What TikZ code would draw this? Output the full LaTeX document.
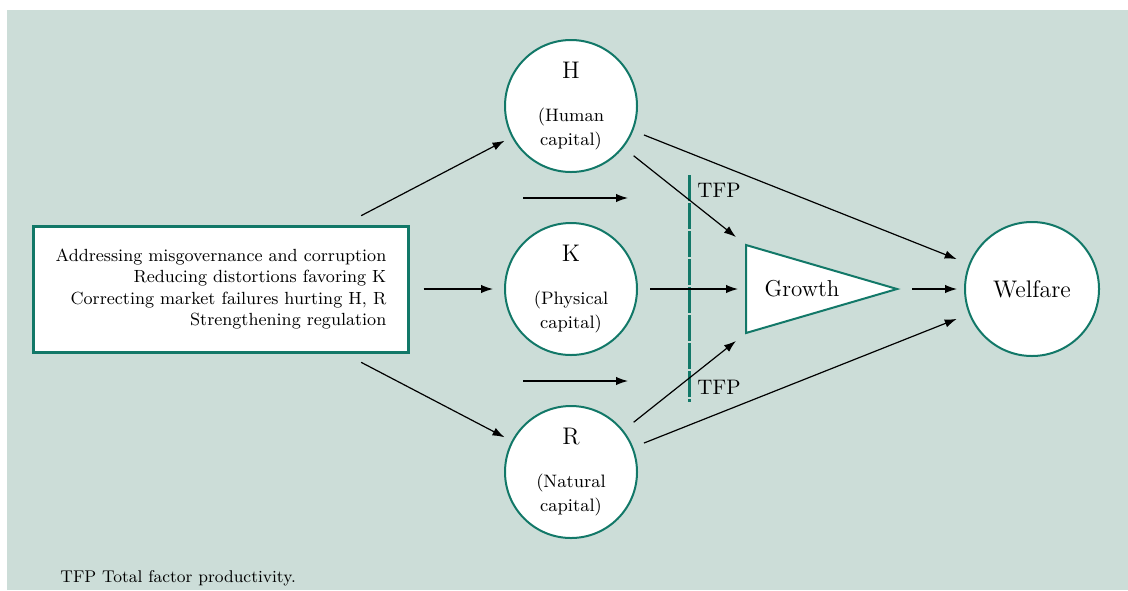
\documentclass[tikz,border=0pt]{standalone}
\usepackage{tikz}
\usetikzlibrary{positioning}
\usetikzlibrary{arrows.meta}
\definecolor{bgteal}{RGB}{204,221,216}
\definecolor{darkteal}{RGB}{18,120,104}
\begin{document}
\begin{tikzpicture}[x=0.5pt, y=-0.5pt,
    capital/.style={circle, draw=darkteal, line width=1pt, fill=white,
                    minimum size=66pt, inner sep=0pt, align=center,
                    font=\fontsize{9}{12}\selectfont},
    flow/.style={->, >={Latex[length=6pt, width=4.2pt]}, line width=0.6pt},
    tfp/.style={anchor=west, inner sep=0pt, font=\fontsize{10.5}{12}\selectfont}]
    \useasboundingbox (0,0) rectangle (1128,590);
    \fill [white] (0,0) rectangle (1128,590);
    \fill [bgteal] (7,10) rectangle (1128,590);

    % dashed TFP barrier
    \coordinate (tfptop) at (689,175);
    \coordinate (tfpbot) at (689,402);
    \draw [darkteal, line width=1.5pt, dash pattern=on 13pt off 1pt] (tfptop) -- (tfpbot);
    \node [tfp] (tfp1) at (697,190) {TFP};
    \node [tfp] (tfp2) at (697,387) {TFP};

    % the three capitals
    \node [capital] (k) at (571,289)
          {{\fontsize{12}{14}\selectfont K}\\[9.5pt](Physical\\capital)};
    \node [capital, above=24.5pt of k] (h)
          {{\fontsize{12}{14}\selectfont H}\\[9.5pt](Human\\capital)};
    \node [capital, below=24.5pt of k] (r)
          {{\fontsize{12}{14}\selectfont R}\\[9.5pt](Natural\\capital)};

    \node [left=47pt of k, draw=darkteal, line width=1.5pt, fill=white,
           minimum width=187.5pt, minimum height=63pt, align=right,
           font=\fontsize{8.8}{10.8}\selectfont] (box)
          {Addressing misgovernance and corruption\\ Reducing distortions favoring K\\
           Correcting market failures hurting H, R\\ Strengthening regulation};

    % growth triangle
    \coordinate (gnw) at (746,245);
    \coordinate (gsw) at (746,333);
    \coordinate (gtip) at (897,289);
    \coordinate (gw) at (746,289);
    \draw [darkteal, line width=1pt, fill=white] (gnw) -- (gtip) -- (gsw) -- cycle;
    \node [font=\fontsize{11.5}{14}\selectfont] (g) at (802,289) {Growth};

    \node [capital, minimum size=67pt, font=\fontsize{12}{14}\selectfont] (w) at (1032,289) {Welfare};

    \node [anchor=west, inner sep=0pt, font=\fontsize{8.5}{10}\selectfont] (note) at (60,578)
          {TFP Total factor productivity.};

    % policy arrows
    \draw [flow, shorten <=9.5pt, shorten >=4pt] (box) -- (h);
    \draw [flow, shorten <=6.75pt, shorten >=5.5pt] (box) -- (k);
    \draw [flow, shorten <=9.5pt, shorten >=4pt] (box) -- (r);

    \coordinate (u1) at (523,198);
    \coordinate (u2) at (628,198);
    \coordinate (d1) at (523,381);
    \coordinate (d2) at (628,381);
    \draw [flow] (u1) -- (u2);
    \draw [flow] (d1) -- (d2);

    % into growth and welfare
    \draw [flow, shorten <=6pt, shorten >=4pt] (k) -- (gw);
    \draw [flow, shorten <=6.5pt, shorten >=6.4pt] (h) -- (gnw);
    \draw [flow, shorten <=6.5pt, shorten >=6.4pt] (r) -- (gsw);
    \draw [flow, shorten <=5.75pt, shorten >=6.5pt] (h) -- (w);
    \draw [flow, shorten <=5.75pt, shorten >=6.5pt] (r) -- (w);
    \draw [flow, shorten <=7.5pt, shorten >=3.5pt] (gtip) -- (w);
\end{tikzpicture}
\end{document}
